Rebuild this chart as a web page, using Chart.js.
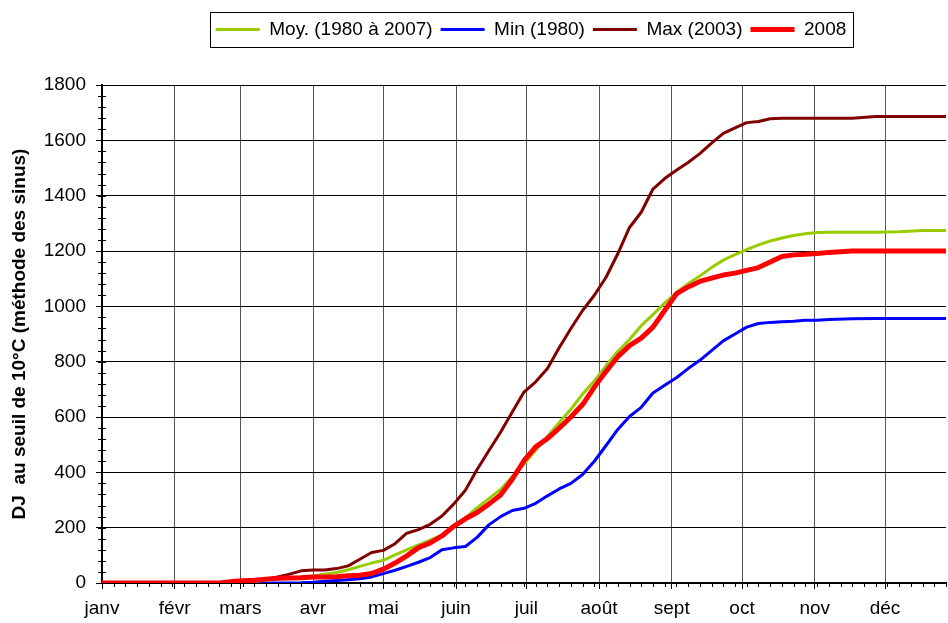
<!DOCTYPE html>
<html>
<head>
<meta charset="utf-8">
<script src="https://cdn.jsdelivr.net/npm/chart.js@4/dist/chart.umd.min.js"></script>
<style>
  html, body { margin: 0; padding: 0; background: #fff; }
  #wrap { width: 948px; height: 623px; }
</style>
</head>
<body>
<div id="wrap"><canvas id="c" width="948" height="623"></canvas></div>
<script>
// ---- Data (day of year -> cumulative degree-days) ----
const days = [0, 50, 55, 60, 65, 70, 75, 80, 85, 90, 95, 100, 105, 110, 115, 120, 125, 130, 135, 140,
  145, 150, 155, 160, 165, 170, 175, 180, 185, 190, 195, 200, 205, 210, 215, 220, 225, 230, 235, 240,
  245, 250, 255, 260, 265, 270, 275, 280, 285, 290, 295, 300, 305, 310, 320, 330, 340, 350, 360];

const moyValues = [0, 0, 1, 3, 6, 10, 14, 18, 22, 25, 32, 38, 48, 60, 72, 82, 102, 120, 138, 155,
  172, 205, 235, 272, 305, 338, 385, 430, 480, 530, 580, 628, 683, 730, 785, 837, 880, 930, 970, 1012,
  1050, 1082, 1110, 1140, 1167, 1187, 1205, 1222, 1236, 1247, 1256, 1262, 1267, 1268, 1268, 1268, 1270, 1274, 1274];

const minValues = [0, 0, 0, 0, 0, 0, 0, 0, 1, 3, 6, 9, 12, 15, 22, 34, 46, 60, 75, 92,
  120, 127, 132, 165, 210, 240, 262, 270, 288, 315, 340, 360, 392, 440, 497, 555, 602, 635, 687, 715,
  742, 775, 805, 840, 875, 900, 925, 938, 942, 944, 946, 950, 950, 952, 955, 956, 956, 956, 956];

const maxValues = [0, 0, 2, 5, 8, 14, 22, 32, 44, 47, 47, 52, 62, 86, 110, 118, 142, 180, 193, 212,
  242, 285, 335, 410, 478, 545, 618, 690, 727, 775, 850, 920, 985, 1040, 1105, 1190, 1285, 1340, 1424, 1462,
  1492, 1520, 1552, 1590, 1625, 1645, 1664, 1668, 1678, 1680, 1680, 1680, 1680, 1680, 1680, 1686, 1686, 1686, 1686];

const y2008Values = [0, 0, 5, 8, 10, 14, 17, 18, 19, 22, 22, 23, 26, 28, 34, 50, 72, 98, 128, 145,
  170, 205, 232, 255, 285, 318, 375, 442, 492, 522, 560, 600, 645, 708, 765, 818, 858, 885, 925, 985,
  1045, 1070, 1090, 1102, 1113, 1120, 1130, 1140, 1160, 1180, 1186, 1188, 1191, 1195, 1200, 1200, 1200, 1200, 1200];

const seriesNames = ['Moy. (1980 à 2007)', 'Min (1980)', 'Max (2003)', '2008'];

// ---- Axis labels ----
const monthLabels = ['janv', 'févr', 'mars', 'avr', 'mai', 'juin', 'juil', 'août', 'sept', 'oct', 'nov', 'déc'];
const monthStartDays = [0, 31, 59, 90, 120, 151, 181, 212, 243, 273, 304, 334];
const yTitle = 'DJ  au seuil de 10°C (méthode des sinus)';

const X_MAX = 360, Y_MAX = 1800, Y_STEP = 200, MINOR_DAY = 5, MINOR_Y = 40;
const FONT = "'Liberation Sans', Arial, sans-serif";
const LEGEND_GAP = 36;
const LEGEND_SHIFT = 58;

const pts = vals => days.map((d, i) => ({ x: d, y: vals[i] }));

const extras = {
  id: 'extras',
  beforeLayout(chart) {
    const lg = chart.legend;
    if (lg && !lg._gapPatched) {
      const orig = lg.fit;
      lg.fit = function () { orig.call(this); this.height += LEGEND_GAP; };
      lg._gapPatched = true;
    }
  },
  afterLayout(chart) {
    const lg = chart.legend;
    if (lg) { lg.left += LEGEND_SHIFT; lg.right += LEGEND_SHIFT; }
  },
  beforeDatasetsDraw(chart) {
    const { ctx, scales: { x, y }, chartArea } = chart;
    ctx.save();
    ctx.strokeStyle = '#000';
    ctx.lineWidth = 1;
    ctx.beginPath();
    for (let d = 0; d <= X_MAX; d += MINOR_DAY) {
      const px = Math.round(x.getPixelForValue(d)) + 0.5;
      ctx.moveTo(px, chartArea.bottom);
      ctx.lineTo(px, chartArea.bottom + 4);
    }
    for (let v = 0; v <= Y_MAX; v += MINOR_Y) {
      const py = Math.round(y.getPixelForValue(v)) + 0.5;
      ctx.moveTo(chartArea.left - 4, py);
      ctx.lineTo(chartArea.left + 4, py);
    }
    ctx.stroke();
    ctx.restore();
  },
  afterDraw(chart) {
    const { ctx } = chart;
    const hb = chart.legend.legendHitBoxes;
    if (!hb || !hb.length) return;
    const l = Math.min(...hb.map(h => h.left)) - 6;
    const r = Math.max(...hb.map(h => h.left + h.width)) + 6;
    const t = Math.min(...hb.map(h => h.top)) - 8;
    const b = Math.max(...hb.map(h => h.top + h.height)) + 8;
    ctx.save();
    ctx.strokeStyle = '#000';
    ctx.lineWidth = 1;
    ctx.strokeRect(Math.round(l) + 0.5, Math.round(t) + 0.5, Math.round(r - l), Math.round(b - t));
    ctx.restore();
  }
};

new Chart(document.getElementById('c'), {
  type: 'line',
  data: {
    datasets: [
      { label: seriesNames[0], data: pts(moyValues), borderColor: '#99CC00', backgroundColor: '#99CC00', borderWidth: 3, order: 2 },
      { label: seriesNames[1], data: pts(minValues), borderColor: '#0000FF', backgroundColor: '#0000FF', borderWidth: 3, order: 3 },
      { label: seriesNames[2], data: pts(maxValues), borderColor: '#800000', backgroundColor: '#800000', borderWidth: 3, order: 1 },
      { label: seriesNames[3], data: pts(y2008Values), borderColor: '#FF0000', backgroundColor: '#FF0000', borderWidth: 5, order: 0 }
    ]
  },
  options: {
    responsive: false,
    animation: false,
    devicePixelRatio: 1,
    elements: { point: { radius: 0 }, line: { tension: 0, borderJoinStyle: 'round', borderCapStyle: 'round' } },
    layout: { padding: { left: 0, right: 2, top: 12, bottom: 0 } },
    plugins: {
      tooltip: { enabled: false },
      legend: {
        position: 'top',
        labels: {
          font: { family: FONT, size: 19 },
          color: '#000',
          usePointStyle: true,
          pointStyle: 'line',
          pointStyleWidth: 44,
          padding: 8,
          sort: (a, b) => a.datasetIndex - b.datasetIndex
        }
      }
    },
    scales: {
      x: {
        type: 'linear',
        min: 0,
        max: X_MAX,
        afterBuildTicks: s => { s.ticks = monthStartDays.map(v => ({ value: v })); },
        afterFit: s => { s.height = 40; },
        ticks: {
          autoSkip: false,
          maxRotation: 0,
          padding: 8,
          color: '#000',
          font: { family: FONT, size: 19 },
          callback: (v, i) => monthLabels[i]
        },
        grid: { color: '#555', lineWidth: 1, tickLength: 6, tickColor: '#000' },
        border: { display: true, color: '#000', width: 2 }
      },
      y: {
        min: 0,
        max: Y_MAX,
        afterFit: s => { s.width = 102; },
        ticks: {
          stepSize: Y_STEP,
          padding: 10,
          color: '#000',
          font: { family: FONT, size: 19 },
          callback: v => String(v)
        },
        grid: { color: '#000', lineWidth: 1, tickLength: 6, tickColor: '#000' },
        border: { display: true, color: '#000', width: 2 },
        title: {
          display: true,
          text: yTitle,
          color: '#000',
          font: { family: FONT, size: 19, weight: 'bold' },
          padding: { top: 8, bottom: 0 }
        }
      }
    }
  },
  plugins: [extras]
});
</script>
</body>
</html>
